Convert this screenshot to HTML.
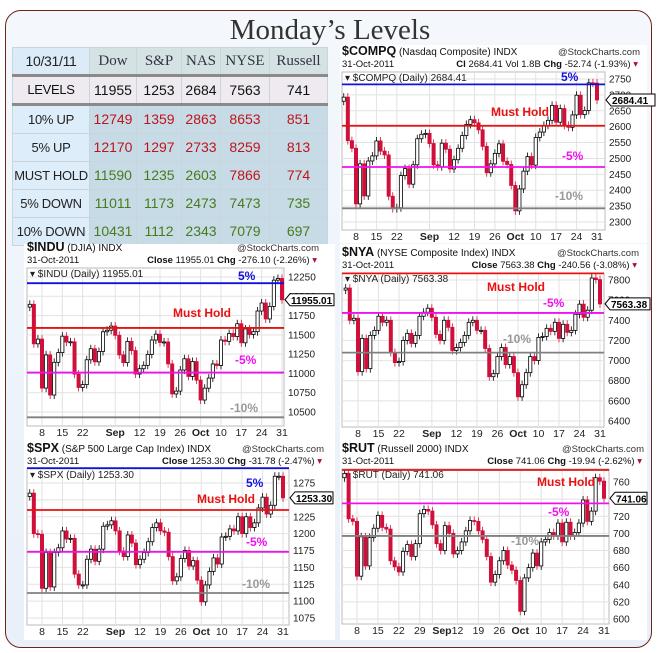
<!DOCTYPE html>
<html><head><meta charset="utf-8">
<style>
html,body{margin:0;padding:0;width:660px;height:653px;overflow:hidden;background:#fff;font-family:"Liberation Sans",sans-serif;}
#frame{position:absolute;left:5px;top:10px;width:645px;height:636px;border:1.5px solid #6e2418;border-radius:16px;background:linear-gradient(#f4f8fd,#e9f0f9);}
#title{position:absolute;left:0;top:14px;width:660px;text-align:center;font-family:"Liberation Serif",serif;font-size:29px;color:#333;}
table{position:absolute;left:12px;top:47px;border-collapse:collapse;table-layout:fixed;width:315px;}
td{border:1px solid #c9d4dc;text-align:center;font-size:14px;padding:0;height:26px;white-space:nowrap;overflow:hidden;line-height:26px;}
td:first-child{font-size:13px;letter-spacing:-0.3px;}
.hd td{font-family:"Liberation Serif",serif;font-size:15px;color:#334;background:#d4e2e3;}
.hd td:first-child{background:#dcebf8;font-family:"Liberation Sans",sans-serif;font-size:14px;color:#222;}
.lv td{background:#eeeaf0;color:#111;border-bottom:3px solid #8a8a8a;border-top:3px solid #8a8a8a;}
.bd td{background:#c6dbe6;height:27px;line-height:27px;}
.bd td:first-child{background:#deedfa;color:#222;}
.r{color:#c0141c}.g{color:#4a7a1c}
svg{position:absolute;left:0;top:0;}
</style></head>
<body>
<div id="frame"></div>
<div id="title">Monday’s Levels</div>
<table>
<colgroup><col style="width:77px"><col style="width:47px"><col style="width:45px"><col style="width:39px"><col style="width:49px"><col style="width:58px"></colgroup>
<tr class="hd"><td>10/31/11</td><td>Dow</td><td>S&amp;P</td><td>NAS</td><td>NYSE</td><td>Russell</td></tr>
<tr class="lv"><td>LEVELS</td><td>11955</td><td>1253</td><td>2684</td><td>7563</td><td>741</td></tr>
<tr class="bd"><td>10% UP</td><td class="r">12749</td><td class="r">1359</td><td class="r">2863</td><td class="r">8653</td><td class="r">851</td></tr>
<tr class="bd"><td>5% UP</td><td class="r">12170</td><td class="r">1297</td><td class="r">2733</td><td class="r">8259</td><td class="r">813</td></tr>
<tr class="bd"><td>MUST HOLD</td><td class="g">11590</td><td class="g">1235</td><td class="g">2603</td><td class="r">7866</td><td class="r">774</td></tr>
<tr class="bd"><td>5% DOWN</td><td class="g">11011</td><td class="g">1173</td><td class="g">2473</td><td class="g">7473</td><td class="g">735</td></tr>
<tr class="bd"><td>10% DOWN</td><td class="g">10431</td><td class="g">1112</td><td class="g">2343</td><td class="g">7079</td><td class="g">697</td></tr>
</table>
<svg id="charts" width="660" height="653"></svg>
<script>
// ---- data ----
const tickIdx = [3,8,13,21,27,32,37,42,47,52,57,62];
const tickText = ['8','15','22','Sep','12','19','26','Oct','10','17','24','31'];
const rutTickIdx = [3,8,13,18,21,27,32,37,42,47,52,57,62];
const rutTickText = ['8','15','22','29','Sep','12','19','26','Oct','10','17','24','31'];
const induCloses = [11896,11384,11445,10810,11240,10720,11144,11270,11483,11406,11410,10991,10818,10855,11177,11320,11150,11285,11540,11560,11614,11494,11240,11140,11415,11296,10992,11061,11105,11247,11433,11509,11401,11408,11124,10734,10771,11044,11190,10961,11154,10913,10655,10809,10940,11123,11103,11433,11416,11518,11478,11644,11397,11577,11505,11541,11809,11913,11706,11869,12209,12231,11955];
const spxCloses = [1260,1200,1199,1119,1172,1121,1172,1179,1204,1192,1193,1140,1124,1124,1162,1177,1159,1177,1211,1213,1219,1204,1174,1166,1198,1186,1154,1162,1172,1188,1209,1216,1204,1202,1166,1130,1136,1163,1175,1152,1160,1131,1099,1124,1144,1164,1155,1195,1196,1207,1204,1225,1200,1225,1209,1216,1238,1254,1229,1242,1285,1285,1253];
const compqCloses = [2693,2556,2532,2357,2483,2382,2492,2508,2555,2523,2511,2381,2342,2345,2446,2468,2419,2480,2562,2576,2579,2547,2480,2474,2548,2529,2467,2496,2532,2572,2607,2622,2612,2590,2538,2455,2483,2516,2546,2491,2481,2415,2335,2404,2460,2506,2479,2566,2583,2604,2620,2667,2614,2657,2604,2598,2637,2699,2638,2651,2738,2737,2684];
const nyaCloses = [7720,7400,7420,6890,7220,6920,7250,7300,7440,7380,7400,7080,6980,6990,7200,7270,7170,7250,7440,7480,7520,7430,7260,7200,7400,7330,7100,7130,7180,7250,7380,7400,7300,7300,7120,6840,6870,7040,7130,6960,7040,6880,6640,6760,6880,7040,7000,7230,7240,7320,7290,7380,7220,7360,7280,7300,7460,7560,7430,7500,7820,7804,7563];
const rutCloses = [770,717,714,650,696,662,695,706,721,707,705,668,661,655,679,687,673,688,723,728,726,710,688,680,709,700,676,680,690,703,715,714,703,693,673,643,652,668,680,663,657,645,609,648,660,677,662,690,693,701,697,712,690,713,697,701,712,739,714,726,765,761,741];
const induFirstOpen = 11860, spxFirstOpen = 1255, compqFirstOpen = 2680, nyaFirstOpen = 7700, rutFirstOpen = 765;
const induTicks = [10500,10750,11000,11250,11500,11750,12000,12250];
const spxTicks = [1075,1100,1125,1150,1175,1200,1225,1250,1275];
const compqTicks = [2300,2350,2400,2450,2500,2550,2600,2650,2700,2750];
const nyaTicks = [6400,6600,6800,7000,7200,7400,7600,7800];
const rutTicks = [600,620,640,660,680,700,720,740,760];
const induLevels = [12170,11590,11011,10431];
const spxLevels = [1297,1235,1173,1112];
const compqLevels = [2733,2603,2473,2343];
const nyaLevels = [8259,7866,7473,7079];
const rutLevels = [813,774,735,697];

const svg = document.getElementById('charts');
const NS = 'http://www.w3.org/2000/svg';
function mk(tag, attrs, parent, text){
  const e = document.createElementNS(NS, tag);
  for (const k in attrs) e.setAttribute(k, attrs[k]);
  if (text !== undefined) e.textContent = text;
  (parent||svg).appendChild(e);
  return e;
}
const levelColors = ['#1010e0','#e81010','#f010f0','#808080'];
const levelNames = ['5%','Must Hold','-5%','-10%'];

function drawChart(c, closes, firstOpen, ticks, levels, tIdx, tText){
  const g = mk('g', {});
  
  
  const xs = i => c.xA + (i - c.iA) * c.dx;
  const ys = v => c.yA + (v - c.vA) * (c.yB - c.yA) / (c.vB - c.vA);
  const bg = mk('rect', {x:c.px, y:c.py, width:c.pw, height:c.ph, fill:'#fff'}, g);
  
  
  const h1 = mk('text', {x:c.L, y:c.T-17, 'font-size':'12.5', 'font-weight':'bold', fill:'#111'}, g);
  
  
  mk('tspan', {}, h1, c.sym);
  mk('tspan', {'font-size':'10','font-weight':'normal'}, h1, ' ' + c.desc + '  INDX');
  const sc = mk('text', {x:c.R+35, y:c.T-17, 'font-size':'9.5', fill:'#333', 'text-anchor':'end'}, g, '@StockCharts.com');
  
  
  const h2 = mk('text', {x:c.L, y:c.T-5, 'font-size':'9.5', fill:'#111'}, g, '31-Oct-2011');
  
  
  const h3 = mk('text', {x:c.R+33, y:c.T-5, 'font-size':'9.5', fill:'#111', 'text-anchor':'end'}, g);
  
  
  mk('tspan', {'font-weight':'bold'}, h3, c.q1);
  mk('tspan', {}, h3, c.q2);
  mk('tspan', {'font-weight':'bold'}, h3, ' Chg ');
  mk('tspan', {}, h3, c.q3);
  mk('tspan', {fill:'#b01030'}, h3, ' ▾');
  mk('rect', {x:c.L, y:c.T, width:c.R-c.L, height:c.B-c.T, fill:'#fff', stroke:'#bbb', 'stroke-width':1}, g);
  ticks.forEach(v => {
    const y = ys(v);
    if (y < c.T || y > c.B) return;
    mk('line', {x1:c.L, x2:c.R, y1:y, y2:y, stroke:'#e2e2e2'}, g);
    const t = mk('text', {x:c.R+4, y:y+3.5, 'font-size':'10', fill:'#222'}, g, String(v));
    
    
  });
  tIdx.forEach((ti, k) => {
    const x = xs(ti);
    mk('line', {x1:x, x2:x, y1:c.T, y2:c.B, stroke:'#e2e2e2'}, g);
    const bold = (tText[k] === 'Sep' || tText[k] === 'Oct');
    const t = mk('text', {x:x, y:c.B+10, 'font-size':'10.5', fill:'#222', 'text-anchor': tText[k]==='Sep' && c.id==='rut' ? 'start':'middle', 'font-weight': bold?'bold':'normal'}, g, tText[k]);
    
    
  });
  const dl = mk('text', {x:c.L+3, y:c.T+9, 'font-size':'10', fill:'#222'}, g, '▾ ' + c.sym + ' (Daily) ' + c.last);
  
  
  const cw = 3.2;
  closes.forEach((cl, i) => {
    const op = i === 0 ? firstOpen : closes[i-1];
    const prev = i === 0 ? firstOpen : closes[i-1];
    const x = xs(i);
    const down = cl < prev;
    const col = down ? '#d0103a' : '#000';
    const top = ys(Math.max(op, cl)), bot = ys(Math.min(op, cl));
    mk('line', {x1:x, x2:x, y1:Math.max(c.T, top-4), y2:Math.min(c.B, bot+4), stroke:col, 'stroke-width':0.8}, g);
    const r = mk('rect', {x:x-cw/2, y:top, width:cw, height:Math.max(1, bot-top), fill: cl < op ? col : '#fff', stroke:col, 'stroke-width':0.8}, g);
    
    
  });
  levels.forEach((v, k) => {
    const y = ys(v);
    if (y < c.T - 1 || y > c.B) return;
    const ln = mk('line', {x1:c.L, x2:c.R, y1:y, y2:y, stroke:levelColors[k], 'stroke-width':1.8}, g);
    
    
    const p = c.lab[k];
    if (p) {
      const t = mk('text', {x:p[0], y:p[1], 'font-size':'12', 'font-weight':'bold', fill: k===3 ? '#999' : levelColors[k]}, g, levelNames[k]);
      
      
    }
  });
  const ly = ys(closes[closes.length-1]);
  const lb = mk('path', {d:`M${c.R+1},${ly} l5,-6 h${c.boxW} v12 h-${c.boxW} z`, fill:'#fff', stroke:'#000', 'stroke-width':1}, g);
  
  
  mk('text', {x:c.R+7, y:ly+4, 'font-size':'10', 'font-weight':'bold', fill:'#000'}, g, c.last);
}

drawChart({id:'compq', sym:'$COMPQ', desc:'(Nasdaq Composite)', q1:'Cl ', q2:'2684.41 Vol 1.8B', q3:'-52.74 (-1.93%)', last:'2684.41', boxW:44,
  px:340, py:45, pw:307, ph:198, L:342, R:605, T:72, B:230, xA:356, iA:3, dx:241/59, vA:2750, yA:79, vB:2300, yB:222,
  lab:[[561,81],[491,116],[562,160],[555,200]]}, compqCloses, compqFirstOpen, compqTicks, compqLevels, tickIdx, tickText);
drawChart({id:'indu', sym:'$INDU', desc:'(DJIA)', q1:'Close ', q2:'11955.01', q3:'-276.10 (-2.26%)', last:'11955.01', boxW:44,
  px:24, py:244, pw:311, ph:196, L:27, R:284, T:268, B:426, xA:42, iA:3, dx:240/59, vA:12250, yA:277, vB:10500, yB:412,
  lab:[[238,280],[173,317],[235,364],[230,412]]}, induCloses, induFirstOpen, induTicks, induLevels, tickIdx, tickText);
drawChart({id:'nya', sym:'$NYA', desc:'(NYSE Composite Index)', q1:'Close ', q2:'7563.38', q3:'-240.56 (-3.08%)', last:'7563.38', boxW:40,
  px:340, py:244, pw:307, ph:196, L:342, R:604, T:273, B:427, xA:358, iA:3, dx:242/59, vA:7800, yA:280, vB:6400, yB:421,
  lab:[null,[487,291],[543,307],[503,343]]}, nyaCloses, nyaFirstOpen, nyaTicks, nyaLevels, tickIdx, tickText);
drawChart({id:'spx', sym:'$SPX', desc:'(S&P 500 Large Cap Index)', q1:'Close ', q2:'1253.30', q3:'-31.78 (-2.47%)', last:'1253.30', boxW:38,
  px:24, py:440, pw:311, ph:200, L:27, R:289, T:469, B:625, xA:42, iA:3, dx:241/59, vA:1275, yA:483, vB:1075, yB:618,
  lab:[[246,487],[197,503],[246,546],[242,588]]}, spxCloses, spxFirstOpen, spxTicks, spxLevels, tickIdx, tickText);
drawChart({id:'rut', sym:'$RUT', desc:'(Russell 2000)', q1:'Close ', q2:'741.06', q3:'-19.94 (-2.62%)', last:'741.06', boxW:32,
  px:340, py:440, pw:307, ph:200, L:342, R:609, T:469, B:624, xA:357, iA:3, dx:247/59, vA:760, yA:482, vB:600, yB:619,
  lab:[null,[537,486],[548,516],[511,545]]}, rutCloses, rutFirstOpen, rutTicks, rutLevels, rutTickIdx, rutTickText);
</script>
</body></html>
